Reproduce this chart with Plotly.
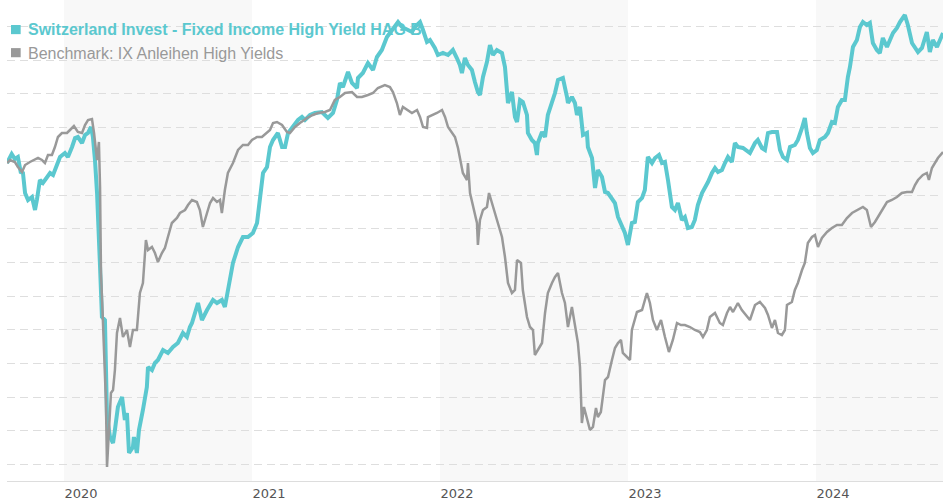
import plotly.graph_objects as go

# ---- data (x in decimal years, y = indexed level) ----
fund_t = [2019.697, 2019.722, 2019.739, 2019.755, 2019.770, 2019.782, 2019.793, 2019.809, 2019.830, 2019.846,
          2019.856, 2019.872, 2019.888, 2019.910, 2019.926, 2019.942, 2019.963, 2019.979, 2020.005, 2020.021,
          2020.043, 2020.059, 2020.074, 2020.096, 2020.112, 2020.128, 2020.144, 2020.154, 2020.165, 2020.176,
          2020.192, 2020.202, 2020.218, 2020.229, 2020.245, 2020.261, 2020.271, 2020.287, 2020.309, 2020.324,
          2020.335, 2020.346, 2020.367, 2020.372, 2020.388, 2020.399, 2020.420, 2020.441, 2020.447, 2020.468,
          2020.484, 2020.500, 2020.527, 2020.553, 2020.580, 2020.606, 2020.633, 2020.654, 2020.670, 2020.681,
          2020.713, 2020.734, 2020.761, 2020.793, 2020.814, 2020.840, 2020.856, 2020.872, 2020.899, 2020.926,
          2020.952, 2020.979, 2021.005, 2021.027, 2021.043, 2021.059, 2021.080, 2021.096, 2021.112, 2021.138,
          2021.160, 2021.176, 2021.192, 2021.218, 2021.245, 2021.266, 2021.282, 2021.309, 2021.335, 2021.372,
          2021.404, 2021.431, 2021.452, 2021.468, 2021.484, 2021.511, 2021.532, 2021.559, 2021.564, 2021.590,
          2021.617, 2021.644, 2021.665, 2021.691, 2021.718, 2021.734, 2021.761, 2021.777, 2021.798, 2021.824,
          2021.851, 2021.867, 2021.894, 2021.910, 2021.931, 2021.947, 2021.973, 2021.989, 2022.016, 2022.043,
          2022.069, 2022.090, 2022.106, 2022.117, 2022.133, 2022.149, 2022.170, 2022.186, 2022.202, 2022.213,
          2022.229, 2022.250, 2022.266, 2022.282, 2022.303, 2022.330, 2022.346, 2022.362, 2022.383, 2022.399,
          2022.410, 2022.426, 2022.441, 2022.463, 2022.468, 2022.489, 2022.505, 2022.516, 2022.521, 2022.543,
          2022.559, 2022.574, 2022.596, 2022.612, 2022.628, 2022.654, 2022.676, 2022.681, 2022.702, 2022.718,
          2022.729, 2022.745, 2022.761, 2022.782, 2022.787, 2022.809, 2022.825, 2022.840, 2022.862, 2022.878,
          2022.894, 2022.915, 2022.931, 2022.947, 2022.968, 2022.984, 2023.000, 2023.021, 2023.037, 2023.053,
          2023.075, 2023.090, 2023.106, 2023.128, 2023.144, 2023.165, 2023.181, 2023.197, 2023.213, 2023.234,
          2023.250, 2023.266, 2023.287, 2023.303, 2023.319, 2023.340, 2023.356, 2023.372, 2023.394, 2023.410,
          2023.426, 2023.447, 2023.463, 2023.479, 2023.500, 2023.516, 2023.532, 2023.553, 2023.569, 2023.585,
          2023.612, 2023.649, 2023.676, 2023.691, 2023.713, 2023.729, 2023.745, 2023.766, 2023.793, 2023.809,
          2023.825, 2023.846, 2023.862, 2023.888, 2023.904, 2023.926, 2023.941, 2023.952, 2023.968, 2023.984,
          2024.005, 2024.021, 2024.048, 2024.064, 2024.085, 2024.101, 2024.117, 2024.138, 2024.154, 2024.170,
          2024.181, 2024.197, 2024.218, 2024.234, 2024.250, 2024.271, 2024.287, 2024.303, 2024.324, 2024.340,
          2024.356, 2024.378, 2024.394, 2024.410, 2024.431, 2024.447, 2024.473, 2024.489, 2024.511, 2024.527,
          2024.543, 2024.564, 2024.590, 2024.606, 2024.622, 2024.644, 2024.660, 2024.676]
fund_v = [99.7, 100.6, 100.1, 100.3, 98.8, 98.7, 96.7, 96.0, 96.3, 95.0,
          96.0, 98.0, 97.7, 98.2, 98.7, 98.5, 99.7, 100.3, 100.7, 100.3,
          101.3, 102.2, 102.3, 101.7, 102.5, 102.7, 103.3, 102.3, 100.0, 96.7,
          89.3, 84.3, 84.0, 74.3, 72.3, 71.7, 73.0, 75.3, 76.3, 74.0,
          74.7, 70.7, 71.3, 72.3, 70.7, 73.0, 75.0, 77.3, 79.3, 79.0,
          79.7, 80.0, 81.0, 80.7, 81.3, 81.7, 82.7, 82.3, 83.3, 83.7,
          85.7, 84.0, 85.0, 86.0, 85.7, 86.0, 85.3, 87.0, 89.7, 91.3,
          92.3, 92.3, 92.7, 93.7, 96.0, 98.7, 99.3, 101.3, 102.0, 102.7,
          101.3, 101.3, 102.7, 103.3, 104.0, 104.3, 104.0, 104.5, 104.7, 104.8,
          104.2, 104.7, 106.0, 107.7, 107.3, 108.8, 107.7, 107.2, 108.2, 108.7,
          109.7, 109.0, 110.3, 111.0, 112.3, 112.7, 113.5, 113.8, 113.3, 113.0,
          112.8, 113.3, 113.8, 113.0, 111.8, 112.0, 111.2, 110.5, 110.7, 110.5,
          111.0, 110.2, 109.5, 108.7, 110.2, 109.5, 109.0, 107.8, 106.8, 106.5,
          108.3, 109.8, 111.5, 110.5, 111.0, 110.7, 109.3, 105.7, 106.8, 104.3,
          103.8, 106.0, 105.8, 104.5, 102.7, 102.0, 101.7, 100.5, 101.7, 102.8,
          102.3, 104.5, 105.7, 106.7, 108.0, 108.2, 106.3, 105.7, 106.3, 105.7,
          104.5, 105.3, 102.5, 102.7, 101.3, 100.2, 97.2, 99.0, 98.3, 96.8,
          96.7, 96.2, 95.7, 94.3, 93.3, 92.7, 91.5, 93.7, 93.8, 95.8,
          96.2, 97.0, 100.3, 99.7, 100.2, 100.5, 99.7, 99.8, 98.0, 95.3,
          95.0, 95.7, 94.0, 94.3, 93.2, 93.3, 94.0, 95.5, 96.7, 97.2,
          97.8, 98.7, 99.2, 98.8, 99.0, 99.7, 100.3, 99.8, 101.7, 101.3,
          101.2, 100.7, 101.7, 102.0, 101.2, 101.0, 102.7, 102.8, 102.8, 101.0,
          100.3, 100.0, 101.3, 101.5, 102.0, 103.2, 104.2, 102.7, 101.2, 100.7,
          101.0, 102.0, 102.3, 102.7, 103.8, 103.7, 105.3, 106.0, 106.0, 108.3,
          109.3, 111.3, 112.0, 113.3, 113.8, 113.5, 113.7, 111.7, 111.0, 110.7,
          112.2, 111.3, 112.0, 112.7, 113.2, 113.8, 114.5, 113.5, 111.7, 111.2,
          110.8, 111.2, 112.8, 110.8, 112.0, 111.3, 112.0, 112.7]

bench_t = [2019.697, 2019.713, 2019.739, 2019.755, 2019.777, 2019.793, 2019.819, 2019.846, 2019.862, 2019.883,
           2019.899, 2019.915, 2019.936, 2019.952, 2019.968, 2019.989, 2020.016, 2020.032, 2020.053, 2020.074,
           2020.096, 2020.112, 2020.128, 2020.149, 2020.160, 2020.176, 2020.186, 2020.192, 2020.197, 2020.207,
           2020.223, 2020.229, 2020.239, 2020.250, 2020.261, 2020.271, 2020.282, 2020.298, 2020.314, 2020.335,
           2020.351, 2020.367, 2020.388, 2020.404, 2020.420, 2020.436, 2020.447, 2020.468, 2020.484, 2020.500,
           2020.521, 2020.537, 2020.553, 2020.574, 2020.601, 2020.617, 2020.644, 2020.660, 2020.681, 2020.707,
           2020.723, 2020.739, 2020.761, 2020.777, 2020.793, 2020.814, 2020.830, 2020.840, 2020.856, 2020.872,
           2020.899, 2020.926, 2020.952, 2020.979, 2021.000, 2021.027, 2021.053, 2021.080, 2021.096, 2021.112,
           2021.133, 2021.160, 2021.186, 2021.202, 2021.229, 2021.255, 2021.293, 2021.324, 2021.351, 2021.388,
           2021.415, 2021.441, 2021.468, 2021.495, 2021.532, 2021.559, 2021.585, 2021.617, 2021.644, 2021.670,
           2021.707, 2021.734, 2021.750, 2021.771, 2021.787, 2021.803, 2021.830, 2021.851, 2021.878, 2021.894,
           2021.910, 2021.931, 2021.936, 2021.963, 2021.984, 2022.011, 2022.027, 2022.043, 2022.064, 2022.080,
           2022.096, 2022.106, 2022.122, 2022.144, 2022.149, 2022.160, 2022.176, 2022.197, 2022.202, 2022.213,
           2022.229, 2022.250, 2022.261, 2022.277, 2022.293, 2022.309, 2022.330, 2022.346, 2022.362, 2022.383,
           2022.399, 2022.410, 2022.431, 2022.441, 2022.463, 2022.479, 2022.495, 2022.505, 2022.521, 2022.543,
           2022.559, 2022.574, 2022.596, 2022.612, 2022.628, 2022.649, 2022.665, 2022.681, 2022.702, 2022.718,
           2022.734, 2022.745, 2022.755, 2022.766, 2022.782, 2022.798, 2022.814, 2022.830, 2022.840, 2022.856,
           2022.878, 2022.894, 2022.915, 2022.931, 2022.947, 2022.963, 2022.973, 2022.995, 2023.011, 2023.021,
           2023.048, 2023.075, 2023.101, 2023.117, 2023.133, 2023.154, 2023.176, 2023.197, 2023.218, 2023.239,
           2023.261, 2023.282, 2023.303, 2023.330, 2023.356, 2023.383, 2023.399, 2023.420, 2023.436, 2023.463,
           2023.489, 2023.505, 2023.527, 2023.543, 2023.559, 2023.585, 2023.606, 2023.649, 2023.676, 2023.702,
           2023.729, 2023.745, 2023.766, 2023.782, 2023.798, 2023.819, 2023.835, 2023.846, 2023.872, 2023.888,
           2023.904, 2023.926, 2023.941, 2023.957, 2023.979, 2023.995, 2024.011, 2024.032, 2024.059, 2024.085,
           2024.112, 2024.138, 2024.165, 2024.192, 2024.218, 2024.250, 2024.271, 2024.293, 2024.314, 2024.330,
           2024.356, 2024.378, 2024.404, 2024.431, 2024.457, 2024.484, 2024.511, 2024.527, 2024.543, 2024.569,
           2024.590, 2024.601, 2024.617, 2024.633, 2024.649, 2024.676]
bench_v = [99.7, 100.0, 99.8, 99.3, 98.8, 99.5, 99.8, 100.1, 100.2, 100.0,
           99.7, 100.5, 100.5, 101.3, 102.3, 102.7, 102.7, 103.0, 103.4, 102.8,
           102.7, 103.5, 104.0, 104.1, 102.7, 100.0, 101.8, 97.3, 88.7, 84.0,
           76.0, 69.3, 72.7, 76.7, 77.0, 79.0, 82.7, 84.2, 82.3, 83.0,
           81.3, 83.0, 83.0, 86.7, 87.7, 92.0, 91.0, 91.3, 90.7, 89.8,
           90.7, 91.2, 92.3, 93.7, 94.2, 94.7, 95.0, 95.5, 96.0, 95.8,
           95.0, 93.3, 94.7, 95.7, 96.2, 95.8, 96.0, 94.7, 97.0, 98.7,
           99.7, 101.0, 101.5, 101.5, 102.0, 102.3, 102.3, 102.7, 103.0, 103.7,
           103.8, 103.5, 102.8, 102.7, 103.3, 103.7, 104.2, 104.5, 104.7, 104.8,
           105.0, 106.0, 106.3, 106.7, 106.8, 106.3, 106.3, 106.5, 106.7, 107.2,
           107.5, 107.3, 106.8, 105.7, 104.5, 105.3, 105.0, 104.7, 105.0, 104.3,
           103.3, 103.2, 104.3, 104.5, 104.7, 105.0, 104.3, 103.3, 102.7, 102.3,
           101.2, 100.3, 98.7, 98.0, 99.7, 96.7, 95.3, 93.7, 91.5, 94.0,
           95.0, 95.3, 96.7, 95.7, 94.7, 93.7, 92.3, 90.3, 87.7, 86.7,
           87.0, 90.0, 89.7, 87.0, 84.3, 83.3, 83.0, 80.5, 81.0, 81.7,
           84.7, 86.7, 87.7, 88.3, 88.7, 86.7, 85.7, 83.3, 85.3, 83.3,
           81.7, 79.3, 73.7, 75.3, 74.0, 73.0, 73.3, 75.2, 74.3, 74.8,
           78.0, 78.3, 80.0, 81.2, 81.7, 82.0, 80.7, 80.3, 80.0, 83.0,
           84.8, 85.0, 86.7, 85.7, 84.0, 83.0, 84.0, 82.3, 80.8, 82.0,
           83.7, 83.5, 83.5, 83.3, 83.0, 82.8, 82.3, 83.0, 84.3, 84.7,
           83.7, 83.5, 84.7, 85.3, 84.8, 85.7, 85.0, 84.0, 85.5, 85.8,
           85.2, 84.5, 83.2, 84.0, 82.7, 82.5, 83.0, 85.5, 85.8, 87.0,
           87.7, 89.0, 89.7, 91.7, 92.3, 92.5, 91.3, 92.2, 92.8, 93.2,
           93.5, 93.5, 94.2, 94.7, 95.0, 95.3, 95.0, 93.3, 93.8, 94.3,
           95.2, 95.8, 96.0, 96.3, 96.7, 96.8, 96.8, 97.5, 98.0, 98.5,
           98.7, 98.0, 99.2, 99.7, 100.2, 100.8]

year_ticks = [2020, 2021, 2022, 2023, 2024]
year_labels = ["2020", "2021", "2022", "2023", "2024"]
shaded_years = [(2020, 2021), (2022, 2023), (2024, 2025)]

fund_name = "Switzerland Invest - Fixed Income High Yield HAG B"
bench_name = "Benchmark: IX Anleihen High Yields"

TEAL = "#5BC8CF"
GRAY = "#999999"

x_range = [2019.697, 2024.676]
y_range = [67.9, 116.0]

fig = go.Figure()
fig.add_trace(go.Scatter(x=fund_t, y=fund_v, mode="lines", name=fund_name,
                         line=dict(color=TEAL, width=4), showlegend=False))
fig.add_trace(go.Scatter(x=bench_t, y=bench_v, mode="lines", name=bench_name,
                         line=dict(color=GRAY, width=2.5), showlegend=False))

shapes = []
for a, b in shaded_years:
    shapes.append(dict(type="rect", xref="x", yref="paper", x0=a, x1=min(b, x_range[1]),
                       y0=0, y1=1, fillcolor="#f8f8f8", line=dict(width=0), layer="below"))
# legend squares
shapes.append(dict(type="rect", xref="paper", yref="paper", x0=0.0043, x1=0.0146,
                   y0=0.929, y1=0.948, fillcolor=TEAL, line=dict(width=0)))
shapes.append(dict(type="rect", xref="paper", yref="paper", x0=0.0043, x1=0.0146,
                   y0=0.881, y1=0.900, fillcolor=GRAY, line=dict(width=0)))

annotations = [
    dict(xref="paper", yref="paper", x=0.0205, y=0.938, xanchor="left", yanchor="middle",
         text="<b>" + fund_name + "</b>", showarrow=False,
         font=dict(family="Liberation Sans, Arial", size=16, color=TEAL)),
    dict(xref="paper", yref="paper", x=0.0205, y=0.889, xanchor="left", yanchor="middle",
         text=bench_name, showarrow=False,
         font=dict(family="Liberation Sans, Arial", size=16, color=GRAY)),
]

fig.update_layout(
    width=943, height=500,
    margin=dict(l=7, r=0, t=0, b=19, autoexpand=False),
    paper_bgcolor="white", plot_bgcolor="white",
    shapes=shapes, annotations=annotations,
    showlegend=False,
    xaxis=dict(range=x_range, tickvals=year_ticks, ticktext=year_labels,
               ticklabelposition="outside right", ticks="", showgrid=False,
               zeroline=False, showline=True, linecolor="#dddddd", linewidth=1,
               tickfont=dict(family="DejaVu Sans", size=13, color="#555555")),
    yaxis=dict(range=y_range, tick0=69.54, dtick=3.37, showticklabels=False,
               showgrid=True, gridcolor="#dedede", gridwidth=1, griddash="8px,5px",
               zeroline=False, showline=False, ticks=""),
)

fig.write_html("out.html", config={"displayModeBar": False},
               post_script="document.body.style.margin='0';document.body.style.overflow='hidden';")
